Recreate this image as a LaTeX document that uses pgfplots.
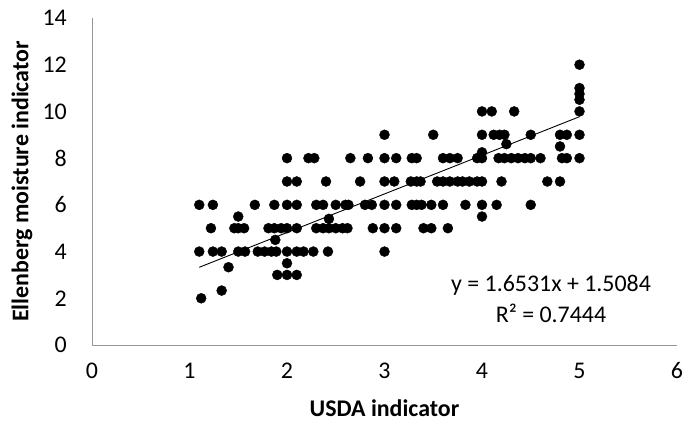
\documentclass[border=0pt]{standalone}
\usepackage{fontspec}
\setmainfont{Carlito}
\usepackage{pgfplots}
\usepackage{pgfplotstable}
\pgfplotsset{compat=1.18}
\definecolor{axgray}{RGB}{150,150,150}
\pgfplotstableread{
x y
1.12 2
1.33 2.33
1.9 3
2.0 3
2.1 3
1.4 3.33
2.0 3.5
1.1 4
1.24 4
1.33 4
1.5 4
1.57 4
1.7 4
1.77 4
1.84 4
1.89 4
2.0 4
2.1 4
2.17 4
2.27 4
2.42 4
3.0 4
1.88 4.5
1.22 5
1.46 5
1.5 5
1.56 5
1.81 5
1.87 5
1.94 5
2.0 5
2.1 5
2.3 5
2.37 5
2.43 5
2.5 5
2.57 5
2.62 5
2.88 5
3.0 5
3.12 5
3.4 5
3.48 5
3.65 5
2.43 5.4
1.5 5.5
4.0 5.5
1.1 6
1.24 6
1.67 6
1.87 6
2.0 6
2.1 6
2.3 6
2.37 6
2.5 6
2.6 6
2.63 6
2.8 6
2.87 6
3.0 6
3.12 6
3.28 6
3.33 6
3.38 6
3.48 6
3.6 6
3.83 6
4.0 6
4.15 6
4.5 6
2.0 7
2.1 7
2.4 7
2.75 7
3.0 7
3.1 7
3.27 7
3.33 7
3.37 7
3.54 7
3.6 7
3.67 7
3.75 7
3.8 7
3.87 7
3.95 7
4.0 7
4.2 7
4.67 7
4.8 7
2.0 8
2.22 8
2.28 8
2.65 8
2.83 8
3.0 8
3.12 8
3.28 8
3.33 8
3.6 8
3.67 8
3.75 8
3.95 8
4.0 8
4.17 8
4.23 8
4.3 8
4.37 8
4.44 8
4.5 8
4.6 8
4.82 8
4.87 8
5.0 8
4.0 8.25
4.8 8.5
4.25 8.6
3.0 9
3.5 9
4.0 9
4.12 9
4.18 9
4.23 9
4.5 9
4.8 9
4.87 9
5.0 9
4.0 10
4.1 10
4.33 10
5.0 10
5.0 10.5
5.0 10.75
5.0 11
5.0 12
}\datatable
\begin{document}
\begin{tikzpicture}
\useasboundingbox (0,0) rectangle (683bp,426bp);
\begin{axis}[
  at={(92bp,81bp)}, anchor=south west,
  scale only axis, width=585bp, height=327bp,
  xmin=0, xmax=6, ymin=0, ymax=14,
  xtick={0,1,2,3,4,5,6}, ytick={0,2,4,6,8,10,12,14},
  axis x line=bottom, axis y line=left,
  axis line style={-, draw=axgray, line width=0.8bp},
  major tick length=0pt,
  tick label style={font=\fontsize{24}{28}\selectfont, inner sep=0pt, text=black},
  /pgf/number format/assume math mode=true,
  xticklabel style={anchor=center, yshift=-26bp},
  yticklabel style={anchor=east, xshift=-25bp},
  xlabel={USDA indicator},
  ylabel={Ellenberg moisture indicator},
  xlabel style={at={(axis description cs:0.5,-0.1927)}, anchor=center, font=\bfseries\fontsize{24}{28}\selectfont},
  ylabel style={at={(axis description cs:-0.1197,0.5)}, anchor=center, font=\bfseries\fontsize{24}{28}\selectfont},
  clip=false,
]
\addplot[only marks, mark=*, mark size=5bp, mark options={fill=black, draw=black}] table[x=x, y=y] {\datatable};
\addplot[black, line width=0.9bp] coordinates {(1.1,3.3268) (5.0,9.7739)};
\node[font=\fontsize{24}{28}\selectfont, anchor=center] at (axis cs:4.708,2.568) {y = 1.6531x + 1.5084};
\node[font=\fontsize{24}{28}\selectfont, anchor=center] at (axis cs:4.708,1.37) {R² = 0.7444};
\end{axis}
\end{tikzpicture}
\end{document}
